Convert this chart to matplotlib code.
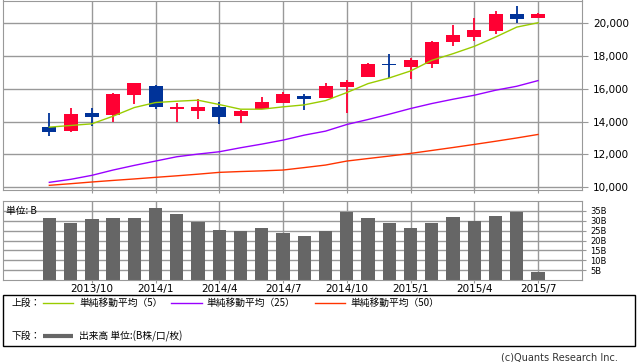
import matplotlib
matplotlib.use("Agg")
import matplotlib.pyplot as plt
from matplotlib.patches import Rectangle
from matplotlib.lines import Line2D

plt.rcParams['font.family'] = ['Noto Sans CJK JP', 'DejaVu Sans']

# ---- data (monthly, 2013/8 .. 2015/7) ----
opens  = [13657, 13435, 14506, 14384, 15617, 16142, 14748, 14647, 14869, 14344, 14748, 15112,
          15536, 15435, 16102, 16708, 17470, 17313, 17495, 18808, 19131, 19495, 20505, 20283]
highs  = [14506, 14809, 14809, 15718, 16324, 16202, 15112, 15354, 15172, 14708, 15475, 15778,
          15657, 16344, 16506, 17556, 18081, 17879, 18869, 19838, 20283, 20687, 20990, 20586]
lows   = [13132, 13374, 13738, 13980, 15071, 14768, 13980, 14162, 13859, 13920, 14748, 15112,
          14708, 15435, 14526, 16708, 16667, 16566, 17232, 18586, 18909, 19333, 19980, 20283]
closes = [13374, 14445, 14283, 15657, 16324, 14890, 14890, 14869, 14283, 14627, 15172, 15657,
          15354, 16142, 16405, 17475, 17440, 17717, 18808, 19232, 19535, 20545, 20242, 20545]
ma5  = [13657, 13758, 13859, 14323, 14849, 15152, 15233, 15294, 15031, 14748, 14748, 14890,
        15011, 15270, 15758, 16303, 16647, 17071, 17717, 18121, 18566, 19131, 19737, 20000]
ma25 = [10304, 10485, 10728, 11051, 11334, 11597, 11859, 12021, 12162, 12405, 12627, 12869,
        13172, 13415, 13819, 14122, 14445, 14788, 15091, 15354, 15596, 15900, 16142, 16485]
ma50 = [10122, 10220, 10324, 10420, 10510, 10607, 10700, 10800, 10910, 10960, 11000, 11051,
        11200, 11354, 11597, 11750, 11900, 12061, 12240, 12420, 12607, 12800, 13000, 13213]
volume = [31.4, 28.7, 30.7, 31.4, 31.4, 36.5, 33.5, 29.5, 25.5, 25.0, 26.5, 24.0,
          22.5, 25.0, 34.2, 31.4, 29.0, 26.5, 29.0, 31.7, 30.0, 32.5, 34.2, 4.3]
tick_idx = [2, 5, 8, 11, 14, 17, 20, 23]
tick_labels = ["2013/10", "2014/1", "2014/4", "2014/7", "2014/10", "2015/1", "2015/4", "2015/7"]
price_ticks = [10000, 12000, 14000, 16000, 18000, 20000]
vol_ticks = [5, 10, 15, 20, 25, 30, 35]
vol_labels = ["5B", "10B", "15B", "20B", "25B", "30B", "35B"]

W, H = 638, 362
fig = plt.figure(figsize=(W / 100, H / 100), dpi=100)

def px_axes(x0, y0, x1, y1):
    return fig.add_axes([x0 / W, 1 - y1 / H, (x1 - x0) / W, (y1 - y0) / H])

GRID = '#999999'
RED = '#ff0033'
BLUE = '#003399'
n = len(opens)
xs = list(range(n))
xl = (-2.18, 25.07)

# ---- price panel ----
ax = px_axes(3, 0.5, 582, 190)
ax.set_xlim(*xl)
ax.set_ylim(9838, 21353)
for v in price_ticks:
    ax.axhline(v, color=GRID, lw=1, zorder=0)
for t in tick_idx:
    ax.axvline(t, color=GRID, lw=1, zorder=0)
w = 0.66
for i in xs:
    o, h, l, c = opens[i], highs[i], lows[i], closes[i]
    col = RED if c >= o else BLUE
    ax.plot([i, i], [l, h], color=col, lw=1.3, zorder=2, solid_capstyle='butt')
    lo, hi = min(o, c), max(o, c)
    hgt = max(hi - lo, 60)
    ax.add_patch(Rectangle((i - w / 2, lo), w, hgt, facecolor=col, edgecolor='none', zorder=3))
ax.plot(xs, ma5, color='#99cc00', lw=1, zorder=4)
ax.plot(xs, ma25, color='#9900ff', lw=1, zorder=4)
ax.plot(xs, ma50, color='#ff3300', lw=1, zorder=4)
ax.yaxis.tick_right()
ax.set_yticks(price_ticks)
ax.set_yticklabels([f"{v:,}" for v in price_ticks], fontsize=7.5, family='DejaVu Sans')
ax.tick_params(axis='y', length=4, color=GRID, pad=4)
ax.set_xticks(tick_idx)
ax.set_xticklabels([])
ax.tick_params(axis='x', length=2, color=GRID)
for s in ax.spines.values():
    s.set_color(GRID)

# ---- volume panel ----
av = px_axes(3, 201, 582, 280)
av.set_xlim(*xl)
av.set_ylim(0, 40)
for v in vol_ticks:
    av.axhline(v, color=GRID, lw=1, zorder=0)
for t in tick_idx:
    av.axvline(t, color=GRID, lw=1, zorder=0)
av.bar(xs, volume, width=0.63, color='#666666', zorder=2)
av.yaxis.tick_right()
av.set_yticks(vol_ticks)
av.set_yticklabels(vol_labels, fontsize=6, family='DejaVu Sans')
av.tick_params(axis='y', length=3, color=GRID, pad=3)
av.set_xticks(tick_idx)
av.set_xticklabels(tick_labels, fontsize=7.5, family='DejaVu Sans')
av.tick_params(axis='x', length=2, color=GRID, pad=1)
for s in av.spines.values():
    s.set_color(GRID)
av.text(0.005, 0.87, "単位: B", transform=av.transAxes, fontsize=7, va='center', ha='left')

# ---- legend box ----
def fx(x):
    return x / W

def fy(y):
    return 1 - y / H

fig.add_artist(Rectangle((fx(3), fy(346)), fx(632), (346 - 295) / H, transform=fig.transFigure,
                         fill=False, edgecolor='black', lw=1))
fs = 7
fig.text(fx(11), fy(303), "上段：", fontsize=fs, va='center', ha='left')
fig.add_artist(Line2D([fx(43), fx(73)], [fy(303), fy(303)], color='#99cc00', lw=1, transform=fig.transFigure))
fig.text(fx(79), fy(303), "単純移動平均（5）", fontsize=fs, va='center', ha='left')
fig.add_artist(Line2D([fx(171), fx(202)], [fy(303), fy(303)], color='#9900ff', lw=1, transform=fig.transFigure))
fig.text(fx(206), fy(303), "単純移動平均（25）", fontsize=fs, va='center', ha='left')
fig.add_artist(Line2D([fx(315), fx(345)], [fy(303), fy(303)], color='#ff3300', lw=1, transform=fig.transFigure))
fig.text(fx(350), fy(303), "単純移動平均（50）", fontsize=fs, va='center', ha='left')
fig.text(fx(11), fy(336), "下段：", fontsize=fs, va='center', ha='left')
fig.add_artist(Line2D([fx(43), fx(73)], [fy(336), fy(336)], color='#666666', lw=3, transform=fig.transFigure,
                      solid_capstyle='butt'))
fig.text(fx(79), fy(336), "出来高 単位:(B株/口/枚)", fontsize=fs, va='center', ha='left')
fig.text(fx(618), fy(357), "(c)Quants Research Inc.", fontsize=7, va='center', ha='right',
         family='DejaVu Sans', color='#333333')

fig.savefig("out.png", dpi=100)
